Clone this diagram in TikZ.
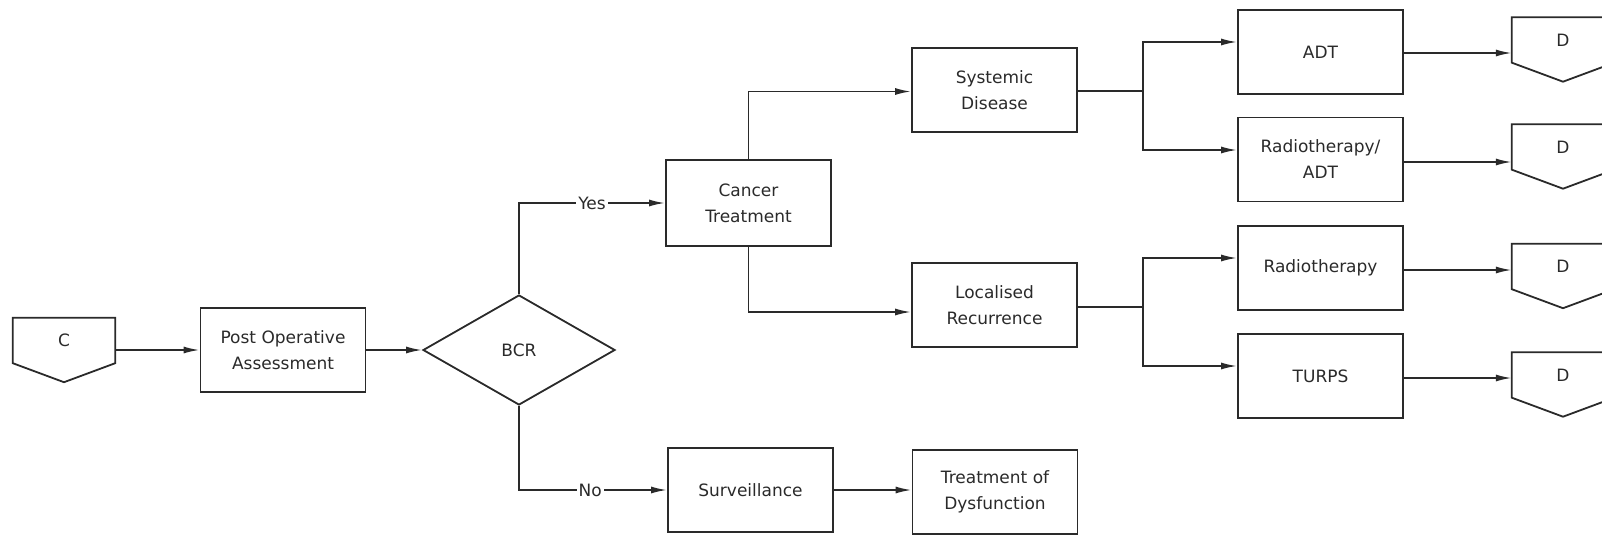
\documentclass[tikz,border=0pt]{standalone}
\usepackage{fontspec}
\setmainfont{DejaVu Sans}
\usetikzlibrary{arrows.meta,shapes.geometric,calc}
\definecolor{ink}{HTML}{2A2A2A}
\tikzset{
  txt/.style={font=\fontsize{17}{26}\selectfont, text=ink},
  box/.style={txt, draw=ink, line width=1.8pt, minimum width=165pt, minimum height=84pt, align=center, inner sep=0pt},
  dec/.style={txt, shape=diamond, draw=ink, line width=1.8pt, minimum width=192pt, minimum height=110pt, inner sep=0pt},
  offp/.style={txt, minimum width=102pt, minimum height=45pt, inner sep=0pt},
  ln/.style={draw=ink, line width=1.8pt},
  arr/.style={ln, -{Latex[length=16pt,width=7pt]}},
  lab/.style={txt, fill=white, inner sep=2pt}
}
\begin{document}
\begin{tikzpicture}[x=1pt,y=-1pt]
\useasboundingbox (0,0) rectangle (1602,535);
\clip (0,0) rectangle (1602,535);
% nodes
\node[offp] (c) at (64,340.5) {C};
\node[box] (pa) at (283,350) {Post Operative\\Assessment};
\node[dec] (bcr) at (519,350) {BCR};
\node[box, minimum height=86pt] (ct) at (748.5,203) {Cancer\\Treatment};
\node[box] (sd) at (994.5,90) {Systemic\\Disease};
\node[box] (lr) at (994.5,305) {Localised\\Recurrence};
\node[box] (surv) at (750.5,490) {Surveillance};
\node[box] (tod) at (995,492) {Treatment of\\Dysfunction};
\node[box] (adt) at (1320.5,52) {ADT};
\node[box] (radt) at (1320.5,159.5) {Radiotherapy/\\ADT};
\node[box] (rt) at (1320.5,268) {Radiotherapy};
\node[box] (turps) at (1320.5,376) {TURPS};
\node[offp] (d1) at (1563,40) {D};
\node[offp] (d2) at (1563,147) {D};
\node[offp] (d3) at (1563,266.5) {D};
\node[offp] (d4) at (1563,375) {D};
\foreach \n in {c,d1,d2,d3,d4}
  \draw[ln] (\n.north west) -- (\n.north east) -- (\n.south east) -- ([yshift=-19pt]\n.south) -- (\n.south west) -- cycle;
\coordinate (b1) at (1143,91);
\coordinate (b2) at (1143,307);
% connectors
\draw[arr] (c.east |- pa.west) -- (pa.west);
\draw[arr] (pa.east) -- (bcr.west);
\draw[arr] (bcr.north) |- (ct.west) node[lab, pos=0.75] {Yes};
\draw[arr] (bcr.south) |- (surv.west) node[lab, pos=0.74] {No};
\draw[arr] (ct.north) |- ([yshift=-1.5pt]sd.west);
\draw[arr] (ct.south) |- ([yshift=-7pt]lr.west);
\draw[ln] (sd.east |- b1) -- (b1);
\draw[arr] (b1) |- ([yshift=10pt]adt.west);
\draw[arr] (b1) |- ([yshift=9.5pt]radt.west);
\draw[ln] (lr.east |- b2) -- (b2);
\draw[arr] (b2) |- ([yshift=10pt]rt.west);
\draw[arr] (b2) |- ([yshift=10pt]turps.west);
\draw[arr] (surv.east) -- (surv.east -| tod.west);
\draw[arr] ([yshift=-1pt]adt.east) -- ([yshift=-1pt]adt.east -| d1.west);
\draw[arr] ([yshift=-2.5pt]radt.east) -- ([yshift=-2.5pt]radt.east -| d2.west);
\draw[arr] ([yshift=-2pt]rt.east) -- ([yshift=-2pt]rt.east -| d3.west);
\draw[arr] ([yshift=-2pt]turps.east) -- ([yshift=-2pt]turps.east -| d4.west);
\end{tikzpicture}
\end{document}
